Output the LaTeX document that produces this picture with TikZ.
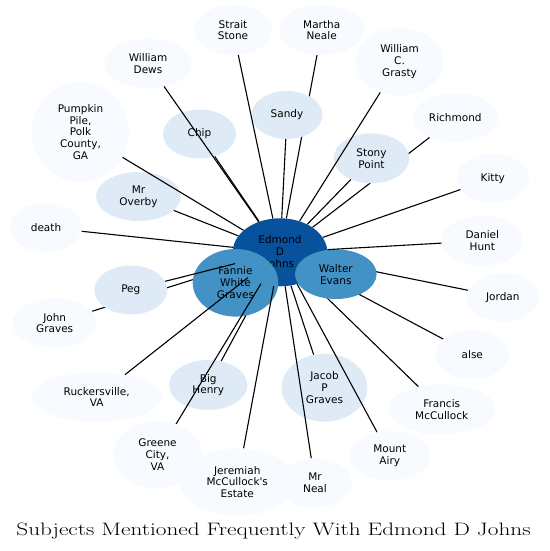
\documentclass[tikz,border=0pt]{standalone}
\usepackage{fontspec}
\newfontfamily\nodefont{DejaVu Sans}
\usetikzlibrary{shapes.geometric}
\definecolor{cDark}{HTML}{08519C}
\definecolor{cMid}{HTML}{4292C6}
\definecolor{cLight}{HTML}{DEEBF7}
\definecolor{cPale}{HTML}{F7FBFF}
\pgfdeclarelayer{bg}
\pgfsetlayers{bg,main}
\begin{document}
\begin{tikzpicture}[x=1pt,y=-1pt,
  nd/.style={ellipse, inner sep=0pt, align=center, text=black,
    font=\nodefont\fontsize{10.5}{11.8}\selectfont},
  pale/.style={nd, fill=cPale},
  light/.style={nd, fill=cLight},
  mid/.style={nd, fill=cMid},
  dark/.style={nd, fill=cDark},
  sz/.style 2 args={minimum width=#1pt, minimum height=#2pt},
  edge/.style={draw=black, line width=1.1pt}]
\useasboundingbox (0,0) rectangle (549,551);

% central nodes
\node[dark, sz={94.6}{68}] (edm) at (280,252.3) {Edmond\\D\\Johns};
\node[mid, sz={85.6}{67.6}] (fannie) at (235.5,282.8) {Fannie\\White\\Graves};
\node[mid, sz={81.6}{49.6}] (walter) at (335.8,274.2) {Walter\\Evans};

% outer nodes
\node[pale, sz={78}{50}] (strait) at (233,30) {Strait\\Stone};
\node[pale, sz={85.4}{50}] (martha) at (321.7,30) {Martha\\Neale};
\node[pale, sz={88}{68}] (grasty) at (399.5,61.7) {William\\C.\\Grasty};
\node[pale, sz={88}{49}] (dews) at (148,63.5) {William\\Dews};
\node[pale, sz={97}{100}] (pumpkin) at (80.5,132) {Pumpkin\\Pile,\\Polk\\County,\\GA};
\node[light, sz={73}{49}] (chip) at (199.5,134) {Chip};
\node[light, sz={71}{48}] (sandy) at (287,115) {Sandy};
\node[pale, sz={86}{48.6}] (richmond) at (455.3,117.7) {Richmond};
\node[light, sz={75.6}{50}] (stony) at (371.5,158.3) {Stony\\Point};
\node[pale, sz={72.4}{48.6}] (kitty) at (492.8,178.3) {Kitty};
\node[light, sz={85}{49}] (overby) at (138.5,196.5) {Mr\\Overby};
\node[pale, sz={72}{49}] (death) at (46,227.5) {death};
\node[pale, sz={81.4}{49.6}] (daniel) at (482.3,240.8) {Daniel\\Hunt};
\node[light, sz={73}{49}] (peg) at (130.8,290) {Peg};
\node[pale, sz={72.4}{48.6}] (jordan) at (502.8,297.3) {Jordan};
\node[pale, sz={84.6}{49.4}] (john) at (54.7,323) {John\\Graves};
\node[pale, sz={73.4}{49}] (alse) at (472.3,354.5) {alse};
\node[pale, sz={129.4}{49.4}] (rucker) at (96.7,397) {Ruckersville,\\VA};
\node[light, sz={78.4}{50}] (henry) at (208.2,385) {Big\\Henry};
\node[light, sz={85.6}{68}] (jacob) at (324.5,387.7) {Jacob\\P\\Graves};
\node[pale, sz={108}{49.6}] (francis) at (441.7,409.2) {Francis\\McCullock};
\node[pale, sz={89.6}{67.4}] (greene) at (157.5,454.7) {Greene\\City,\\VA};
\node[pale, sz={80.4}{49.6}] (airy) at (389.8,455.8) {Mount\\Airy};
\node[pale, sz={116}{67.4}] (jeremiah) at (237.3,482) {Jeremiah\\McCullock's\\Estate};
\node[pale, sz={73.4}{49.4}] (neal) at (315,483) {Mr\\Neal};

% connectors hidden beneath nodes
\begin{pgfonlayer}{bg}
\draw[edge] (martha) -- (edm);
\draw[edge] (richmond) -- (edm);
\draw[edge] (john) -- (edm);
\draw[edge] (henry) -- (edm);
\draw[edge] (jordan) -- (edm);
\draw[edge] (alse) -- (edm);
\draw[edge] (francis) -- (edm);
\end{pgfonlayer}

% connectors drawn above nodes
\draw[edge] (strait) -- (edm);
\draw[edge] (dews) -- (edm);
\draw[edge] (chip) -- (edm);
\draw[edge] (sandy) -- (edm);
\draw[edge] (grasty) -- (edm);
\draw[edge] (stony) -- (edm);
\draw[edge] (kitty) -- (edm);
\draw[edge] (daniel) -- (edm);
\draw[edge] (pumpkin) -- (edm);
\draw[edge] (overby) -- (edm);
\draw[edge] (death) -- (edm);
\draw[edge] (peg) -- (edm);
\draw[edge] (rucker) -- (edm);
\draw[edge] (greene) -- (edm);
\draw[edge] (jeremiah) -- (edm);
\draw[edge] (neal) -- (edm);
\draw[edge] (jacob) -- (edm);
\draw[edge] (airy) -- (edm);

\node[anchor=base, inner sep=0pt, font=\fontsize{18}{21}\selectfont] (title) at (273.5,535) {\scalebox{1.29}[1]{Subjects Mentioned Frequently With Edmond D Johns}};
\end{tikzpicture}
\end{document}
